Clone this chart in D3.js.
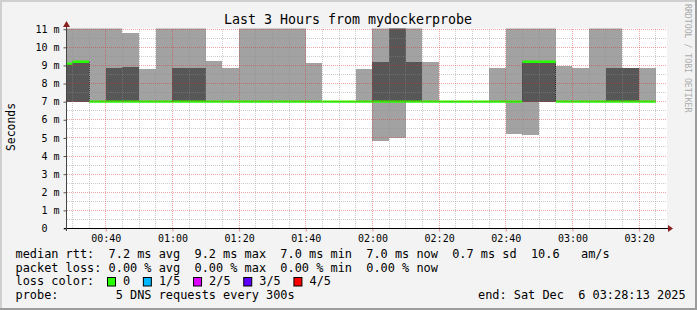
<!DOCTYPE html>
<html>
<head>
<meta charset="utf-8">
<script src="https://cdn.jsdelivr.net/npm/d3@7"></script>
<style>
  body { margin: 0; background: #f3f3f3; }
  svg text { font-family: "DejaVu Sans Mono", monospace; white-space: pre; }
</style>
</head>
<body>
<div id="chart"></div>
<script>
// 5 minute bins (start time of each bin)
var binStart = ["00:25","00:30","00:35","00:40","00:45","00:50","00:55","01:00","01:05","01:10",
  "01:15","01:20","01:25","01:30","01:35","01:40","01:45","01:50","01:55","02:00",
  "02:05","02:10","02:15","02:20","02:25","02:30","02:35","02:40","02:45","02:50",
  "02:55","03:00","03:05","03:10","03:15","03:20"];

// sorted pings per bin, in ms (1st .. 5th)
var pingLow     = [7.0,7.0,7.0,7.0,7.0,7.0,7.0,7.0,7.0,7.0, 7.0,7.0,7.0,7.0,7.0,7.0,7.0,7.0,7.0,4.85,
  5.0,7.0,7.0,7.0,7.0,7.0,7.0,5.2,5.15,7.0, 7.0,7.0,7.0,7.0,7.0,7.0];
var pingLowMid  = [7.0,7.0,7.0,7.0,7.0,7.0,7.0,7.0,7.0,7.0, 7.0,7.0,7.0,7.0,7.0,7.0,7.0,7.0,7.0,7.0,
  7.0,7.0,7.0,7.0,7.0,7.0,7.0,7.0,7.0,7.0, 7.0,7.0,7.0,7.0,7.0,7.0];
var pingMedian  = [9.1,9.2,7.0,7.0,7.0,7.0,7.0,7.0,7.0,7.0, 7.0,7.0,7.0,7.0,7.0,7.0,7.0,7.0,7.0,7.0,
  7.0,7.0,7.0,7.0,7.0,7.0,7.0,7.0,9.2,9.2, 7.0,7.0,7.0,7.0,7.0,7.0];
var pingHighMid = [9.1,9.2,7.0,8.85,8.9,7.0,7.0,8.85,8.85,7.0, 7.0,7.0,7.0,7.0,7.0,7.0,7.0,7.0,7.0,9.2,
  11.5,9.2,7.0,7.0,7.0,7.0,7.0,7.0,9.2,9.2, 7.0,7.0,7.0,8.85,8.85,7.0];
var pingHigh    = [11.5,11.5,11.5,11.5,10.8,8.8,11.5,11.5,11.5,9.25, 8.85,11.5,11.5,11.5,11.5,9.15,7.0,7.0,8.8,11.5,
  11.5,11.5,9.2,7.0,7.0,7.0,8.85,11.5,11.5,11.5, 8.95,8.85,11.5,11.5,8.85,8.85];

var yTickValues = [0,1,2,3,4,5,6,7,8,9,10,11];
var yTickLabels = ["0  ","1 m","2 m","3 m","4 m","5 m","6 m","7 m","8 m","9 m","10 m","11 m"];
var xTickLabels = ["00:40","01:00","01:20","01:40","02:00","02:20","02:40","03:00","03:20"];

var rttStats  = ["7.2 ms avg","9.2 ms max","7.0 ms min","7.0 ms now","0.7 ms sd","10.6   am/s"];
var lossStats = ["0.00 % avg","0.00 % max","0.00 % min","0.00 % now"];
var lossLabels = ["0","1/5","2/5","3/5","4/5"];
var lossColors = ["#26ff00","#00b8ff","#dd00ff","#5e00ff","#ff0000"];

var svgWidth = 697, svgHeight = 310;
var day = "2025-12-06 ";
var parseTime = d3.timeParse("%Y-%m-%d %H:%M:%S");
var tStart = parseTime(day + "00:28:13"), tEnd = parseTime(day + "03:28:13");

var svg = d3.select("#chart").append("svg")
  .attr("width", svgWidth).attr("height", svgHeight);

// frame
svg.append("rect").attr("width", svgWidth).attr("height", svgHeight).attr("fill", "#f3f3f3");
svg.append("rect").attr("x", 0).attr("y", 0).attr("width", svgWidth).attr("height", 2).attr("fill", "#cfcfcf");
svg.append("rect").attr("x", 0).attr("y", 0).attr("width", 2).attr("height", svgHeight).attr("fill", "#cfcfcf");
svg.append("rect").attr("x", 0).attr("y", svgHeight - 2).attr("width", svgWidth).attr("height", 2).attr("fill", "#9c9c9c");
svg.append("rect").attr("x", svgWidth - 2).attr("y", 0).attr("width", 2).attr("height", svgHeight).attr("fill", "#9c9c9c");

var x = d3.scaleTime().domain([tStart, tEnd]).range([66.5, 666.5]);
var y = d3.scaleLinear().domain([0, 11]).range([228.5, 29.2]);
var crisp = function(v) { return Math.floor(v) + 0.5; };

// canvas
svg.append("rect").attr("x", 66.5).attr("y", 28.5).attr("width", 600.5).attr("height", 200)
  .attr("fill", "#ffffff");

svg.append("clipPath").attr("id", "plotclip").append("rect")
  .attr("x", 66.5).attr("y", 28.5).attr("width", 600).attr("height", 200);

var plot = svg.append("g").attr("clip-path", "url(#plotclip)");

var bins = binStart.map(function(s, i) {
  var t0 = parseTime(day + s + ":00");
  return {
    t0: t0, t1: d3.timeMinute.offset(t0, 5),
    p1: pingLow[i], p2: pingLowMid[i], p3: pingMedian[i], p4: pingHighMid[i], p5: pingHigh[i]
  };
});

// smoke: outer pings light, inner pings dark
plot.selectAll(".smoke1").data(bins).enter().append("rect")
  .attr("x", d => x(d.t0)).attr("width", d => x(d.t1) - x(d.t0))
  .attr("y", d => y(d.p5)).attr("height", d => y(d.p1) - y(d.p5))
  .attr("fill", "#a2a2a2").attr("shape-rendering", "crispEdges");

plot.selectAll(".smoke2").data(bins).enter().append("rect")
  .attr("x", d => x(d.t0)).attr("width", d => x(d.t1) - x(d.t0))
  .attr("y", d => y(d.p4)).attr("height", d => y(d.p2) - y(d.p4))
  .attr("fill", "#575757").attr("shape-rendering", "crispEdges");

// grid
var majorTimes = xTickLabels.map(s => parseTime(day + s + ":00"));
var minorTimes = d3.timeMinute.every(5).range(parseTime(day + "00:30:00"), tEnd)
  .filter(t => t.getMinutes() % 20 !== 0);
var minorY = d3.range(1, 22, 2).map(v => v / 2);
var majorY = yTickValues.slice(1);

var grid = svg.append("g").attr("fill", "none").attr("stroke-width", 1).attr("stroke-dasharray", "1,1");
grid.selectAll(".vmin").data(minorTimes).enter().append("line")
  .attr("x1", d => crisp(x(d))).attr("x2", d => crisp(x(d)))
  .attr("y1", 29).attr("y2", 228).attr("stroke", "rgba(140,140,140,0.45)");
grid.selectAll(".hmin").data(minorY).enter().append("line")
  .attr("x1", 67).attr("x2", 667).attr("y1", d => crisp(y(d))).attr("y2", d => crisp(y(d)))
  .attr("stroke", "rgba(140,140,140,0.45)");
grid.selectAll(".vmaj").data(majorTimes).enter().append("line")
  .attr("x1", d => crisp(x(d))).attr("x2", d => crisp(x(d)))
  .attr("y1", 29).attr("y2", 228).attr("stroke", "rgba(225,40,40,0.42)");
grid.selectAll(".hmaj").data(majorY).enter().append("line")
  .attr("x1", 67).attr("x2", 667).attr("y1", d => crisp(y(d))).attr("y2", d => crisp(y(d)))
  .attr("stroke", "rgba(225,40,40,0.42)");

// median steps
var steps = bins.slice(1).map(function(d, i) { return { t: d.t0, a: bins[i].p3, b: d.p3 }; })
  .filter(d => d.a !== d.b && Math.abs(d.a - d.b) > 0.5);
plot.selectAll(".step").data(steps).enter().append("line")
  .attr("x1", d => crisp(x(d.t))).attr("x2", d => crisp(x(d.t)))
  .attr("y1", d => y(d.a)).attr("y2", d => y(d.b))
  .attr("stroke", "#222").attr("stroke-dasharray", "1,1");

// median line coloured by loss (all 0 loss)
plot.selectAll(".median").data(bins).enter().append("line")
  .attr("x1", d => x(d.t0)).attr("x2", d => x(d.t1))
  .attr("y1", d => y(d.p3)).attr("y2", d => y(d.p3))
  .attr("stroke", lossColors[0]).attr("stroke-width", 2.4);

// axes
var xAxis = d3.axisBottom(x).tickValues(majorTimes).tickFormat(d3.timeFormat("%H:%M"))
  .tickSize(3).tickPadding(3);
var gx = svg.append("g").attr("transform", "translate(0,228.5)").call(xAxis);
gx.select(".domain").remove();
gx.selectAll(".tick line").attr("stroke", "#e09090").attr("transform", function() {
  return null;
});
gx.selectAll("text").attr("font-family", "DejaVu Sans Mono").attr("font-size", 10).attr("fill", "#000");

var yAxis = d3.axisLeft(y).tickValues(yTickValues).tickFormat((d, i) => yTickLabels[i])
  .tickSize(3).tickPadding(4);
var gy = svg.append("g").attr("transform", "translate(66.5,0)").call(yAxis);
gy.select(".domain").remove();
gy.selectAll(".tick line").attr("stroke", "#555");
gy.selectAll("text").attr("font-family", "DejaVu Sans Mono").attr("font-size", 10).attr("fill", "#000");

svg.append("line").attr("x1", 64).attr("x2", 669).attr("y1", 228.5).attr("y2", 228.5)
  .attr("stroke", "#000");
svg.append("line").attr("x1", 66.5).attr("x2", 66.5).attr("y1", 231).attr("y2", 25)
  .attr("stroke", "#444");
svg.append("path").attr("d", "M668,225L673,228.5L668,232Z").attr("fill", "#8a1f1f");
svg.append("path").attr("d", "M63,27L66.5,21L70,27Z").attr("fill", "#8a1f1f");

// titles
svg.append("text").attr("x", 348).attr("y", 24).attr("text-anchor", "middle")
  .attr("font-size", 13.3).text("Last 3 Hours from mydockerprobe");
svg.append("text").attr("transform", "translate(14.5,127) rotate(-90)").attr("text-anchor", "middle")
  .attr("font-size", 11.4).text("Seconds");
svg.append("text").attr("transform", "translate(685,4) rotate(90)").attr("font-size", 8.2)
  .attr("fill", "#ababab").text("RRDTOOL / TOBI OETIKER");

// legend
var cw = 7.17, lx = 15.5, fs = 11.9;
var rows = [
  "median rtt:  " + rttStats.join("  "),
  "packet loss: " + lossStats.join("  "),
  "loss color:",
  "probe:        5 DNS requests every 300s"
];
var rowY = [257.7, 271.5, 285.3, 299];
svg.selectAll(".legrow").data(rows).enter().append("text")
  .attr("x", lx).attr("y", (d, i) => rowY[i]).attr("font-size", fs).text(d => d);

var boxCols = [13, 18, 25, 32, 39];
var leg = svg.selectAll(".lossitem").data(lossLabels).enter().append("g");
leg.append("rect")
  .attr("x", (d, i) => lx + boxCols[i] * cw - 1.2).attr("y", 277.5)
  .attr("width", 8).attr("height", 8.5)
  .attr("fill", (d, i) => lossColors[i]).attr("stroke", "#000").attr("stroke-width", 1);
leg.append("text")
  .attr("x", (d, i) => lx + (boxCols[i] + 2) * cw).attr("y", rowY[2])
  .attr("font-size", fs).text(d => d);

svg.append("text").attr("x", 478).attr("y", rowY[3]).attr("font-size", fs)
  .text("end: Sat Dec  6 03:28:13 2025");
</script>
</body>
</html>
